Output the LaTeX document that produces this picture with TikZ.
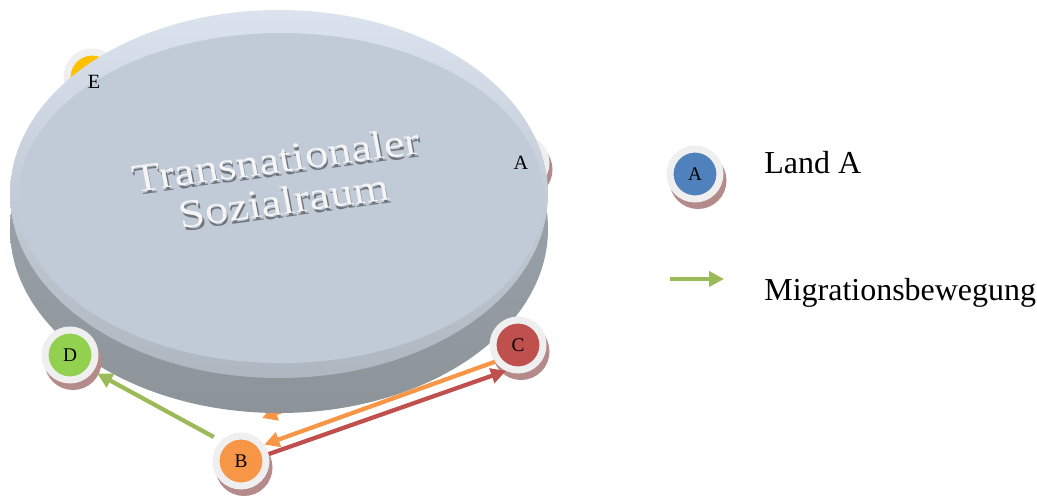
\documentclass[tikz,border=0pt]{standalone}
\usepackage{fontspec}
\setmainfont{Liberation Serif}
\usetikzlibrary{positioning,arrows.meta,shadows}

\definecolor{discrimtop}{HTML}{DAE3EE}
\definecolor{discrimbot}{HTML}{AEB6BF}
\definecolor{discface}{HTML}{C1CBD7}
\definecolor{discsidetop}{HTML}{A4ABB3}
\definecolor{discsidebot}{HTML}{8C9399}
\definecolor{ringgray}{HTML}{EFEFEF}
\definecolor{coinedge}{HTML}{B48A8A}
\definecolor{landblue}{HTML}{4F81BD}
\definecolor{landorange}{HTML}{F79646}
\definecolor{landred}{HTML}{C0504D}
\definecolor{landgreen}{HTML}{92D050}
\definecolor{landyellow}{HTML}{FFC000}
\definecolor{miggreen}{HTML}{9BBB59}
\definecolor{embossgray}{HTML}{6F757B}

\begin{document}
\begin{tikzpicture}[x=0.02cm,y=-0.02cm,
  coin/.style={circle,minimum size=1cm,inner sep=0pt,line width=0.14cm,draw=ringgray,fill=#1,
    font=\fontsize{11}{12}\selectfont,
    general shadow={shadow xshift=0.06cm,shadow yshift=-0.13cm,fill=coinedge,draw=coinedge,line width=0.14cm}},
  mig/.style={line width=0.085cm,-{Triangle[length=0.3cm,width=0.3cm]}},
  lbl/.style={inner sep=0pt,font=\fontsize{11.5}{12}\selectfont},
  disctext/.style={align=center,inner sep=0pt,font=\fontsize{26.5}{28}\selectfont,transform shape,yscale=0.85,rotate=9},
  legtext/.style={anchor=base west,inner sep=0pt,font=\fontsize{18.2}{20}\selectfont}]
\useasboundingbox (0,0) rectangle (1037,497);

% lands behind the disc
\node[coin=landyellow] (E) at (92,77) {};
\node[coin=landblue] (A) at (521,163) {};
\coordinate (hidfrom) at (470,345);
\coordinate (hidto) at (262,418);
\draw[mig,landorange] (hidfrom) -- (hidto);

% the disc
\shade[top color=discsidetop,bottom color=discsidebot] (279,229) ellipse [x radius=269,y radius=184];
\shade[top color=discrimtop,bottom color=discrimbot] (279,194) ellipse [x radius=269,y radius=184];
\fill[discface] (281,198) ellipse [x radius=263,y radius=165];

\coordinate (txt) at (280,180);
\node[disctext,text=embossgray] (titleshadow) at ([shift={(1.5,3)}]txt) {Transnationaler\\Sozialraum};
\node[disctext,text=white!96!black] (title) at (txt) {Transnationaler\\Sozialraum};

\node[lbl] (Elbl) at ([shift={(2,5)}]E) {E};
\node[lbl] (Albl) at (A) {A};

% lands in front
\node[coin=landgreen] (D) at (70,355) {D};
\node[coin=landred] (C) at (518,345) {C};
\node[coin=landorange] (B) at (241,461) {B};

\draw[mig,miggreen,shorten <=0.16cm,shorten >=0.09cm] (B.135) -- (D.-35);
\draw[mig,landorange] (C.216) -- (B.35);
\draw[mig,landred] (B.14) -- (C.245);

% legend
\node[coin=landblue] (legA) at (695,174) {A};
\node[legtext] (legland) at (764,173) {Land A};
\coordinate (legfrom) at (670,279);
\coordinate (legto) at (724,279);
\draw[mig,miggreen] (legfrom) -- (legto);
\node[legtext] (legmig) at (764,300) {Migrationsbewegung};
\end{tikzpicture}
\end{document}
